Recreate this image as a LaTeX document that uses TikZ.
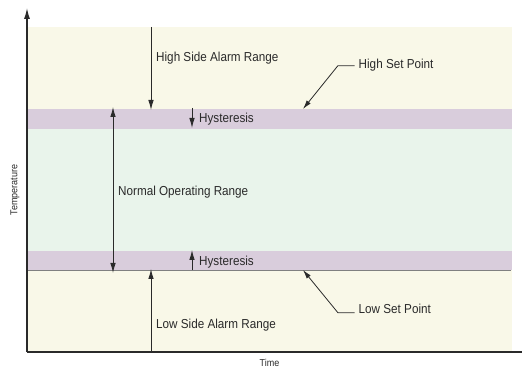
\documentclass[tikz,border=0pt]{standalone}
\usepackage{fontspec}
\setmainfont{Liberation Sans}[FakeStretch=0.9]
\usetikzlibrary{arrows.meta}

\definecolor{alarmyellow}{HTML}{F9F8E8}
\definecolor{hysband}{HTML}{D9CDDC}
\definecolor{normalgreen}{HTML}{E9F4EB}
\definecolor{inkgray}{HTML}{2A2A2A}

\tikzset{
  lbl/.style={font=\fontsize{13}{15}\selectfont, text=inkgray, inner sep=0pt, anchor=base west},
  smalllbl/.style={font=\fontsize{10}{12}\selectfont, text=inkgray, inner sep=0pt},
  rangearrow/.style={draw=inkgray, line width=0.9pt, -{Latex[length=10pt,width=5.5pt]}},
  leader/.style={draw=inkgray, line width=0.8pt, -{Latex[length=9pt,width=5pt]}},
  axis/.style={draw=inkgray, line width=1.3pt}
}

\begin{document}
\begin{tikzpicture}[x=1pt,y=-1pt]
\useasboundingbox (0,0) rectangle (522,371);

% bands
\fill[alarmyellow] (27,27) rectangle (512,109);
\fill[hysband] (27,109) rectangle (512,129);
\fill[normalgreen] (27,129) rectangle (512,251);
\fill[hysband] (27,251) rectangle (512,270);
\fill[alarmyellow] (27,270) rectangle (512,352);
\draw[gray, line width=0.8pt] (27,270) -- (511,270); %low set point line

% axes
\coordinate (O) at (27,352);
\coordinate (ytop) at (27,8);
\coordinate (xend) at (522,352);
\draw[axis, -{Latex[length=11pt,width=6pt]}] (O) -- (ytop);
\draw[axis] (O) -- (xend);

\node[smalllbl, rotate=90] (templabel) at (15,190) {Temperature};
\node[smalllbl] (timelabel) at (269.5,363) {Time};

% points on the band edges
\coordinate (hsaTop) at (151,27);
\coordinate (hsaTip) at (151,110);
\coordinate (norTop) at (113,107);
\coordinate (norBot) at (113,273);
\coordinate (lsaBot) at (151,352);
\coordinate (lsaTip) at (151,269);
\coordinate (hysupTop) at (192,108);
\coordinate (hysupTip) at (192,128);
\coordinate (hysdnBot) at (192,270);
\coordinate (hysdnTip) at (192,250);
\coordinate (hspTip) at (303,109);
\coordinate (lspTip) at (303,270);

% range arrows
\draw[rangearrow] (hsaTop) -- (hsaTip);
\draw[rangearrow, {Latex[length=10pt,width=5.5pt]}-{Latex[length=10pt,width=5.5pt]}] (norTop) -- (norBot);
\draw[rangearrow] (lsaBot) -- (lsaTip);
\draw[rangearrow] (hysupTop) -- (hysupTip);
\draw[rangearrow] (hysdnBot) -- (hysdnTip);

\node[lbl] (hsa) at (156,62) {High Side Alarm Range};
\node[lbl] (nor) at (118,195.5) {Normal Operating Range};
\node[lbl] (lsa) at (156,328) {Low Side Alarm Range};
\node[lbl] (hysup) at (199,122.7) {Hysteresis};
\node[lbl] (hysdn) at (199,265.5) {Hysteresis};
\node[lbl] (hsp) at (358.5,68.3) {High Set Point};
\node[lbl] (lsp) at (358.5,313.7) {Low Set Point};

% set point leaders
\draw[leader] ([xshift=-4pt,yshift=2.6pt]hsp.base west) -- ++(-16.6pt,0) -- (hspTip);
\draw[leader] ([xshift=-4pt,yshift=1pt]lsp.base west) -- ++(-16.6pt,0) -- (lspTip);

\end{tikzpicture}
\end{document}
